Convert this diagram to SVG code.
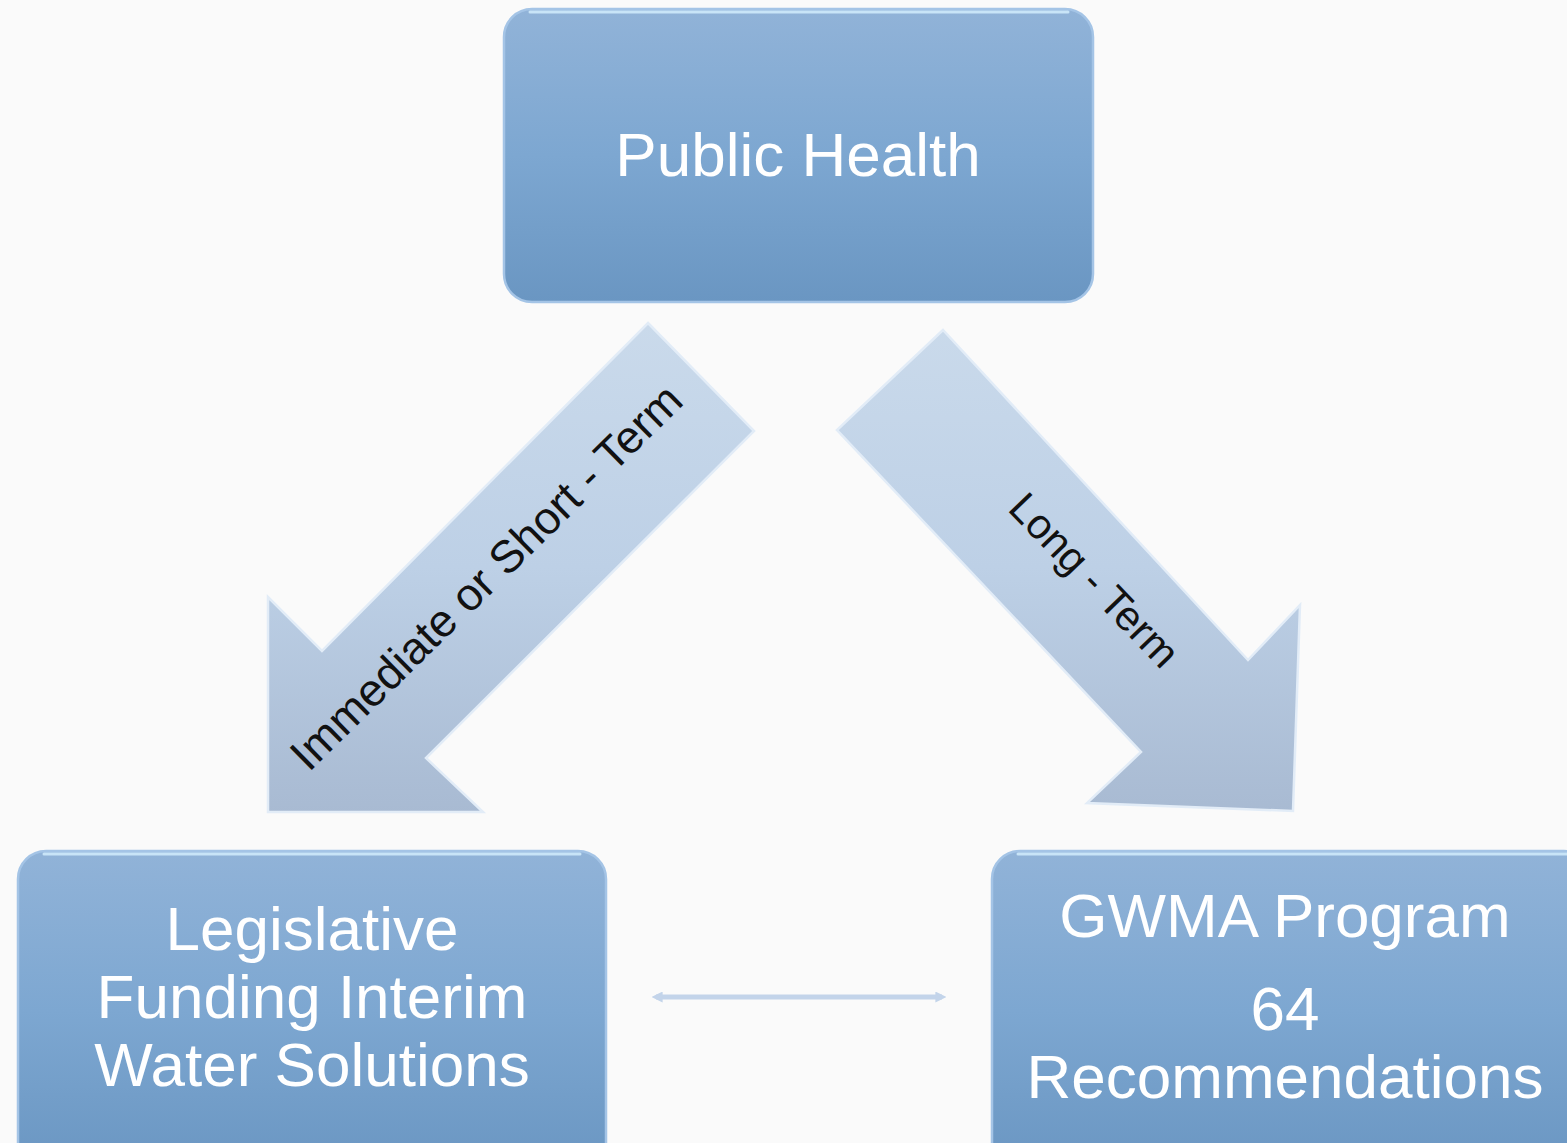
<svg xmlns="http://www.w3.org/2000/svg" width="1567" height="1143" viewBox="0 0 1567 1143">
<defs>
<linearGradient id="boxg" x1="0" y1="0" x2="0" y2="1">
<stop offset="0" stop-color="#91b3d8"/>
<stop offset="0.5" stop-color="#7da7d1"/>
<stop offset="1" stop-color="#6a96c2"/>
</linearGradient>
<linearGradient id="arrg" gradientUnits="userSpaceOnUse" x1="0" y1="320" x2="0" y2="815">
<stop offset="0" stop-color="#cadaeb"/>
<stop offset="0.5" stop-color="#bdd0e6"/>
<stop offset="1" stop-color="#a8bad2"/>
</linearGradient>
<marker id="ah" viewBox="0 0 10 10" refX="6" refY="5" markerWidth="2.2" markerHeight="2.2" orient="auto-start-reverse">
<path d="M0,0 L10,5 L0,10 z" fill="#c3d4ea"/>
</marker>
<style>
.box{fill:url(#boxg);stroke:#a4c4e6;stroke-width:2.5}
.hl{fill:none;stroke:#d6f0ff;stroke-width:3;stroke-linecap:round;opacity:0.8}
.nt{font-family:"Liberation Sans",Arial,sans-serif;font-size:62px;fill:#ffffff;text-anchor:middle}
.arr{fill:url(#arrg);stroke:#e2ecf7;stroke-width:2.5;stroke-linejoin:miter}
.at{font-family:"Liberation Sans",Arial,sans-serif;fill:#111111;text-anchor:middle}
</style>
</defs>
<rect x="0" y="0" width="1567" height="1143" fill="#fafafa"/>

<g id="connectors">
<g id="arrow-short-term">
<polygon class="arr" points="648,323 754,431 426,758 483,812 268,812 268,597 322,651"/>
<text class="at" font-size="45.5" transform="translate(497,588) rotate(-44.5)">Immediate or Short - Term</text>
</g>
<g id="arrow-long-term">
<polygon class="arr" points="943,330 837,430 1141,752 1087,803 1293,811 1300,605 1248,660"/>
<text class="at" font-size="42" transform="translate(1084,590) rotate(46)">Long - Term</text>
</g>
<line id="link-bottom" x1="656" y1="997" x2="942" y2="997" stroke="#c3d4ea" stroke-width="5" marker-start="url(#ah)" marker-end="url(#ah)"/>
</g>

<g id="node-public-health">
<rect class="box" x="504" y="9" width="589" height="293" rx="28" ry="28"/>
<line class="hl" x1="530" y1="12" x2="1068" y2="12"/>
<text class="nt" x="798" y="176">Public Health</text>
</g>

<g id="node-legislative">
<rect class="box" x="18" y="851" width="588" height="320" rx="28" ry="28"/>
<line class="hl" x1="44" y1="854" x2="580" y2="854"/>
<text class="nt" x="312" y="950">Legislative</text>
<text class="nt" x="312" y="1018">Funding Interim</text>
<text class="nt" x="312" y="1086">Water Solutions</text>
</g>

<g id="node-gwma">
<rect class="box" x="992" y="851" width="600" height="320" rx="28" ry="28"/>
<line class="hl" x1="1018" y1="854" x2="1567" y2="854"/>
<text class="nt" x="1285" y="937">GWMA Program</text>
<text class="nt" x="1285" y="1030">64</text>
<text class="nt" x="1285" y="1098">Recommendations</text>
</g>
</svg>
